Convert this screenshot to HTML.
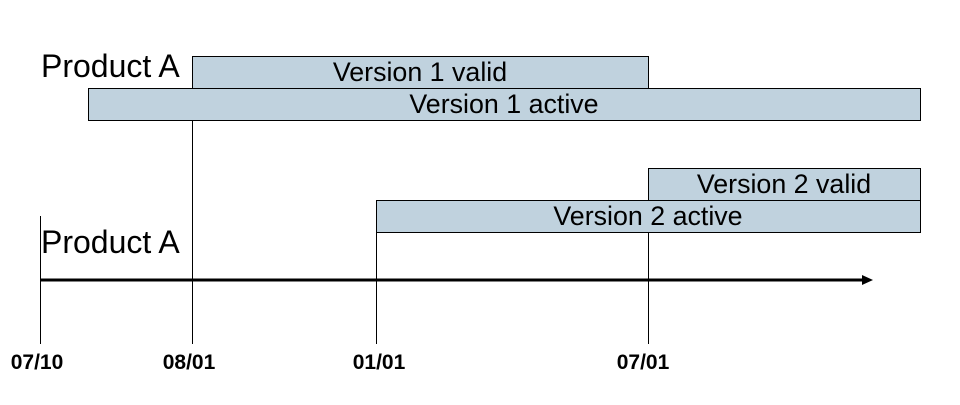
<!DOCTYPE html>
<html><head><meta charset="utf-8"><style>body{margin:0;background:#fff}</style></head><body>
<svg width="960" height="400" xmlns="http://www.w3.org/2000/svg" font-family="Liberation Sans, sans-serif">
<rect width="960" height="400" fill="#fff"/>
<g stroke="#000" stroke-width="1">
<line x1="40.5" y1="216" x2="40.5" y2="344"/>
<line x1="192.5" y1="88" x2="192.5" y2="344"/>
<line x1="376.5" y1="232" x2="376.5" y2="344"/>
<line x1="648.5" y1="200" x2="648.5" y2="344"/>
</g>
<g fill="#c0d2de" stroke="#000" stroke-width="1">
<rect x="192.5" y="56.5" width="456" height="32"/>
<rect x="88.5" y="88.5" width="832" height="32"/>
<rect x="648.5" y="168.5" width="272" height="32"/>
<rect x="376.5" y="200.5" width="544" height="32"/>
</g>
<line x1="40" y1="280" x2="864" y2="280" stroke="#000" stroke-width="3"/>
<polygon points="862,275 873,280 862,285" fill="#000"/>
<g font-size="26.8" text-anchor="middle" fill="#000">
<text x="420" y="81">Version 1 valid</text>
<text x="504" y="113">Version 1 active</text>
<text x="784" y="193">Version 2 valid</text>
<text x="648" y="225">Version 2 active</text>
</g>
<g font-size="32" fill="#000">
<text x="41" y="77">Product A</text>
<text x="41" y="253">Product A</text>
</g>
<g font-size="21" font-weight="bold" text-anchor="middle" fill="#000">
<text x="37" y="369">07/10</text>
<text x="189" y="369">08/01</text>
<text x="379" y="369">01/01</text>
<text x="643" y="369">07/01</text>
</g>
</svg>
</body></html>
